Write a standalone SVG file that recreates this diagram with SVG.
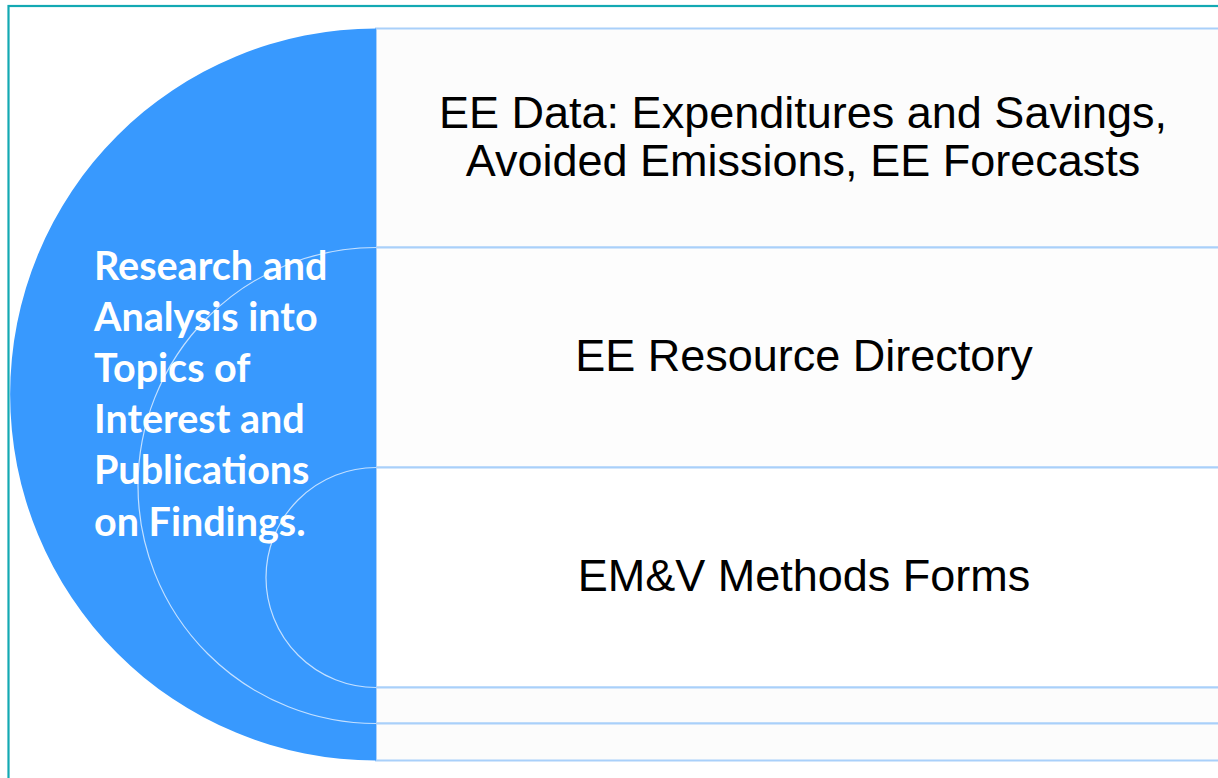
<svg xmlns="http://www.w3.org/2000/svg" width="1218" height="778" viewBox="0 0 1218 778">
  <style>
    .row { stroke: #a9d0fa; stroke-width: 2; }
    .rowtext { font-family: "Liberation Sans", Arial, sans-serif; font-size: 45px; fill: #000000; text-anchor: middle; }
    .lefttext { font-family: Lato, "Open Sans", sans-serif; font-weight: bold; font-size: 39.5px; fill: #ffffff; }
    .ring { fill: none; stroke: #c4e0ff; stroke-width: 1.2; }
  </style>
  <rect x="0" y="0" width="1218" height="778" fill="#ffffff"/>
  <rect id="frame" x="8.5" y="6" width="1230" height="800" fill="none" stroke="#13a9b3" stroke-width="2.2"/>

  <g id="row-ee-data">
    <rect class="row" x="376" y="28.5" width="860" height="219" fill="#fcfcfc"/>
    <text class="rowtext" x="803" y="128">EE Data: Expenditures and Savings,</text>
    <text class="rowtext" x="803" y="176">Avoided Emissions, EE Forecasts</text>
  </g>
  <g id="row-ee-resource">
    <rect class="row" x="376" y="247.5" width="860" height="220" fill="#fdfdfd"/>
    <text class="rowtext" x="804" y="371">EE Resource Directory</text>
  </g>
  <g id="row-emv">
    <rect class="row" x="376" y="467.5" width="860" height="220" fill="#ffffff"/>
    <text class="rowtext" x="804" y="591">EM&amp;V Methods Forms</text>
  </g>
  <g id="row-strip-1">
    <rect class="row" x="376" y="687.5" width="860" height="36" fill="#fcfcfc"/>
  </g>
  <g id="row-strip-2">
    <rect class="row" x="376" y="723.5" width="860" height="37" fill="#fcfcfc"/>
  </g>

  <g id="research-circle">
    <path d="M376,28.5 A366,366 0 0 0 376,760.5 Z" fill="#3899fe"/>
    <path class="ring" d="M376,247.5 A238,238 0 0 0 376,723.5"/>
    <path class="ring" d="M376,467.5 A110,110 0 0 0 376,687.5"/>
    <text class="lefttext">
      <tspan x="94" y="279.5">Research and</tspan>
      <tspan x="94" y="331">Analysis into</tspan>
      <tspan x="94" y="382">Topics of</tspan>
      <tspan x="94" y="433">Interest and</tspan>
      <tspan x="94" y="484">Publications</tspan>
      <tspan x="94" y="535.5">on Findings.</tspan>
    </text>
  </g>
</svg>
